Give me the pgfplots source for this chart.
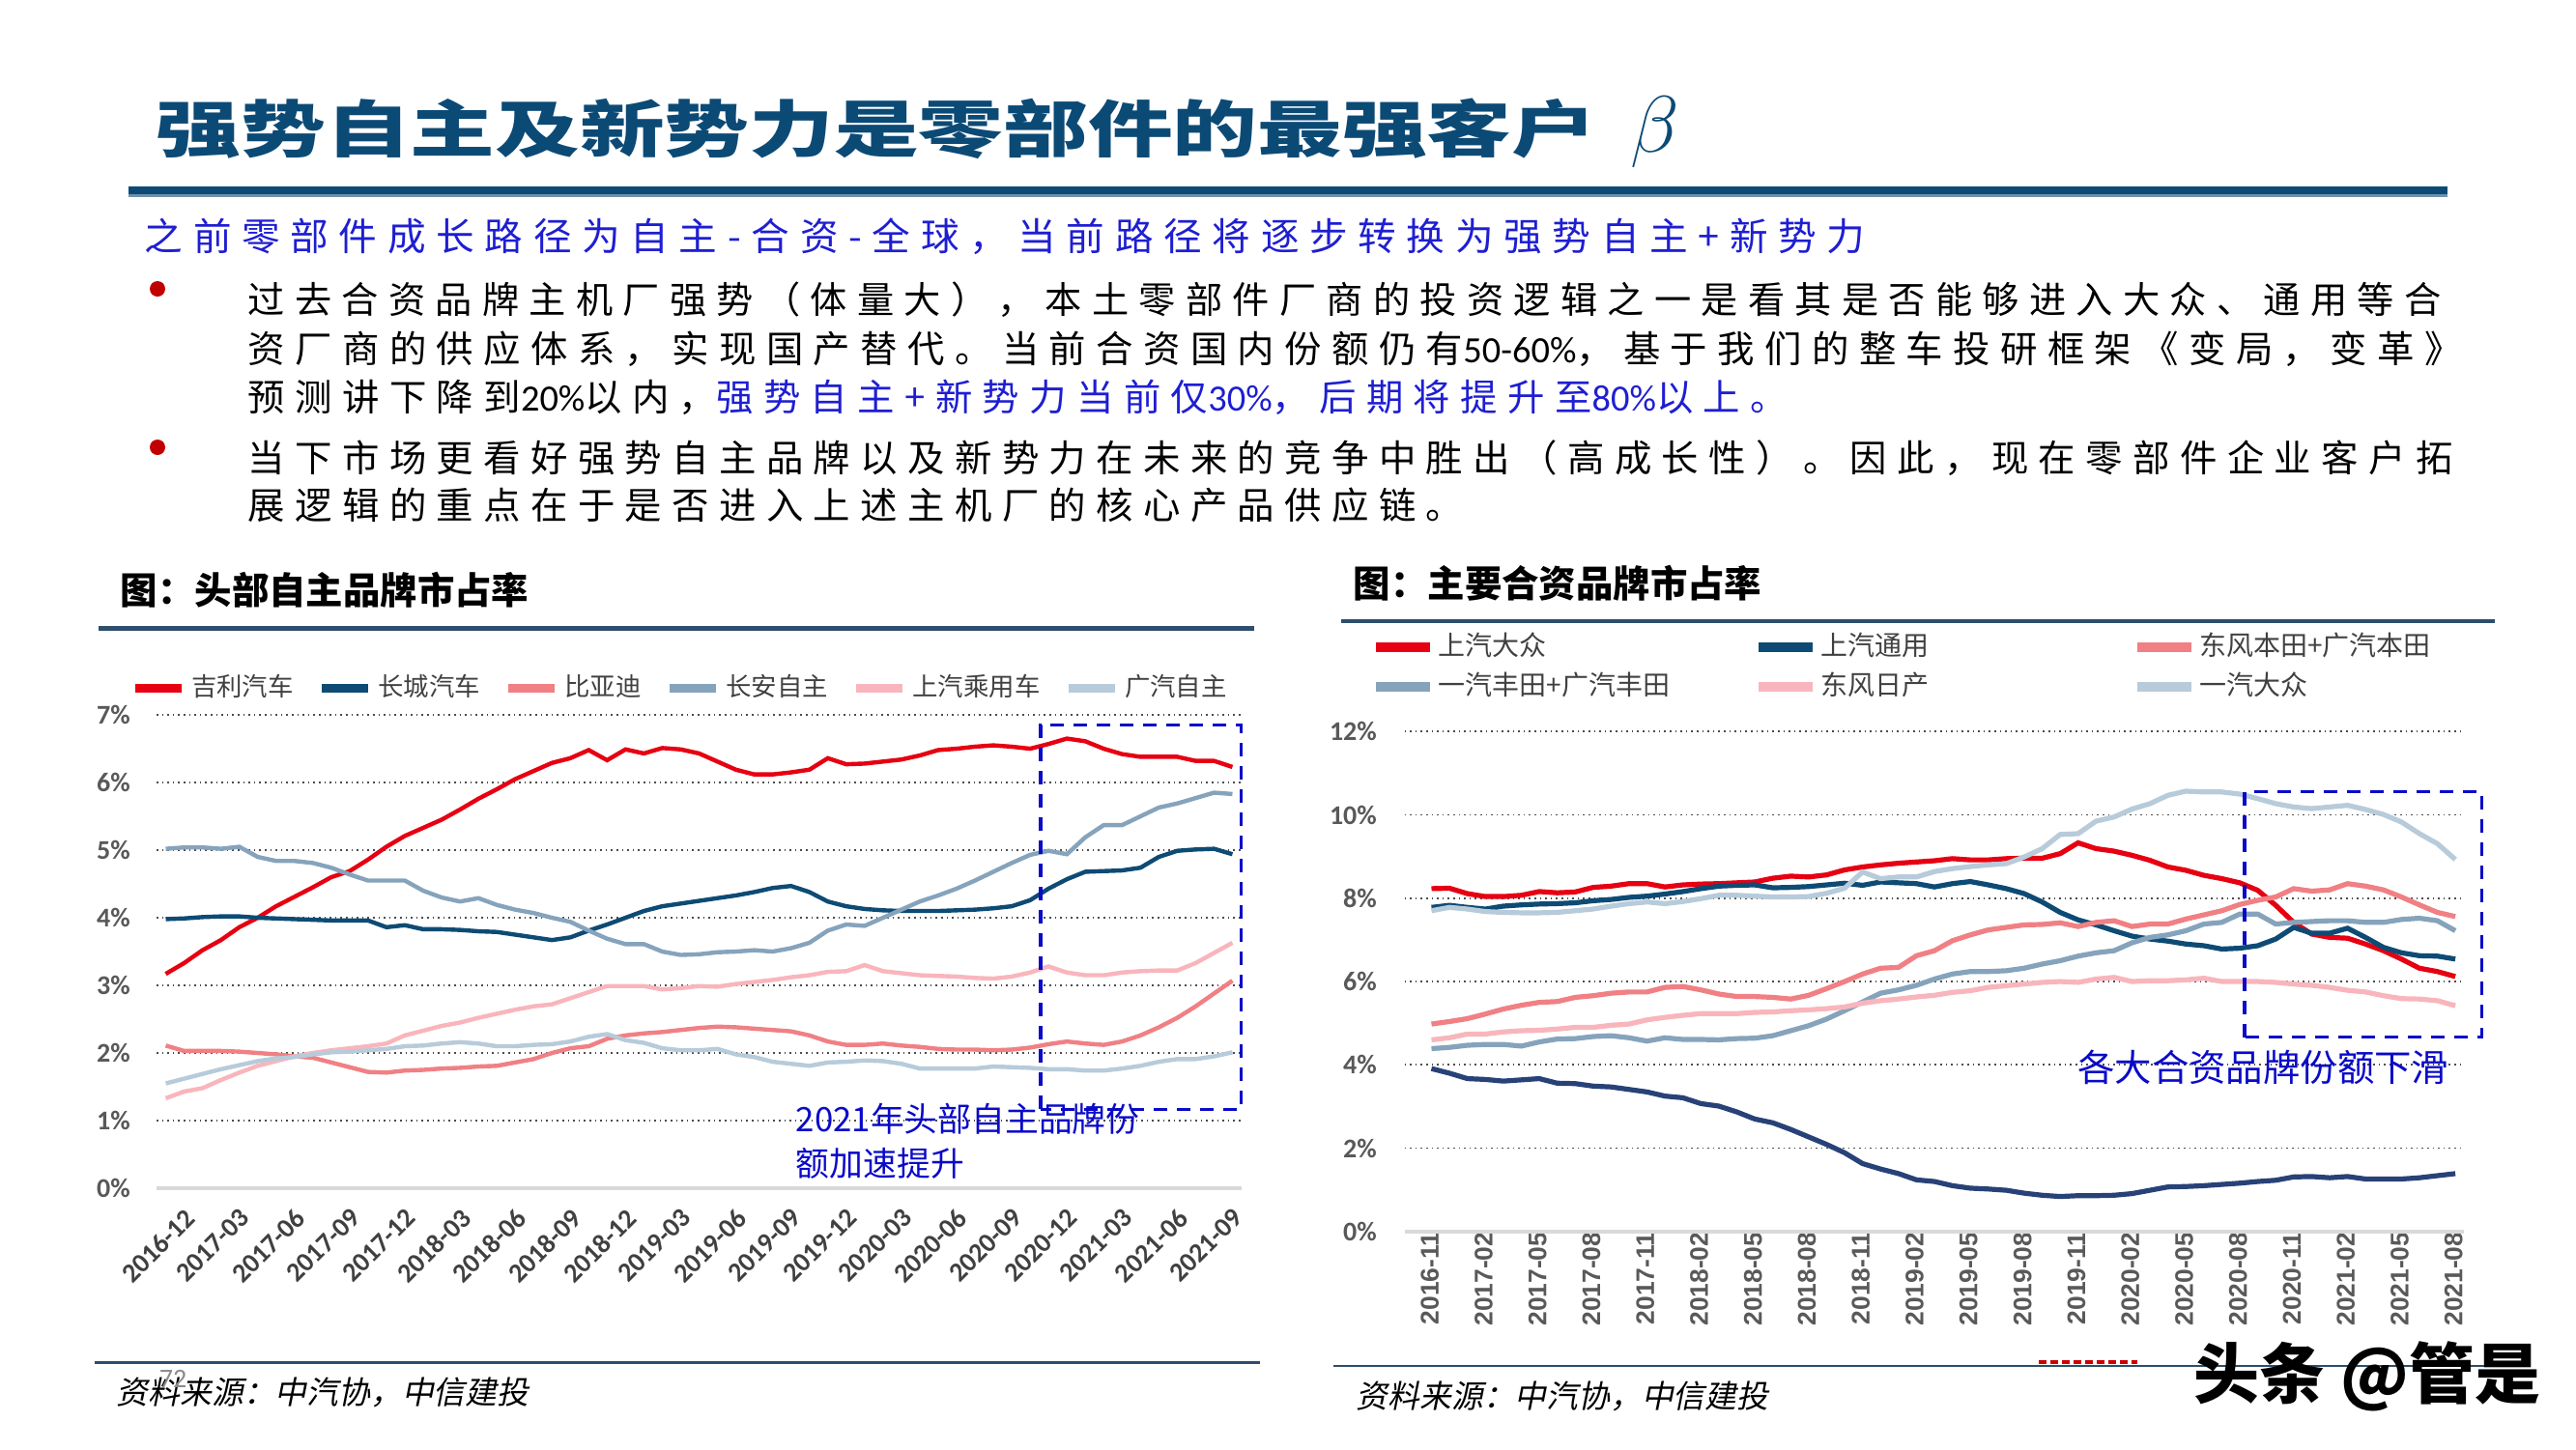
\documentclass[border=0pt]{standalone}
\usepackage{fontspec}
\usepackage{graphicx}
\usepackage{pgfplots}
\usepackage{pgfplotstable}
\pgfplotsset{compat=1.18}
\setmainfont{Noto Sans CJK SC}
\newfontfamily\lsfont[LetterSpace=27]{Noto Sans CJK SC}
\newfontfamily\slfont[FakeSlant=0.2]{Noto Sans CJK SC}
\newfontfamily\carlito{Carlito}
\newfontfamily\libsans{Liberation Sans}
\newcommand\lat[1]{{\carlito #1}}

\definecolor{cRed}{RGB}{230,0,18}
\definecolor{cNavy}{RGB}{14,75,116}
\definecolor{cSalmon}{RGB}{240,128,132}
\definecolor{cSteel}{RGB}{134,163,188}
\definecolor{cPink}{RGB}{248,182,188}
\definecolor{cLight}{RGB}{183,203,218}
\definecolor{cOther}{RGB}{40,66,120}
\definecolor{titleblue}{RGB}{12,74,118}
\definecolor{bodyblue}{RGB}{30,30,210}
\definecolor{annoblue}{RGB}{10,10,200}
\definecolor{rulec}{RGB}{45,78,108}
\definecolor{bulletred}{RGB}{192,0,0}
\definecolor{tickgray}{RGB}{89,89,89}
\definecolor{leggray}{RGB}{64,64,64}

\pgfplotstableread{
i geely gw byd ca saic gac
0 3.17 3.98 2.11 5.02 1.33 1.55
1 3.33 3.99 2.03 5.04 1.43 1.62
2 3.52 4.01 2.03 5.04 1.48 1.69
3 3.67 4.02 2.03 5.02 1.60 1.76
4 3.86 4.02 2.02 5.05 1.71 1.82
5 4.00 4.00 2.00 4.90 1.81 1.88
6 4.17 3.99 1.98 4.84 1.88 1.92
7 4.31 3.98 1.95 4.84 1.95 1.94
8 4.45 3.97 1.93 4.81 2.00 1.98
9 4.60 3.96 1.86 4.74 2.04 2.01
10 4.69 3.96 1.79 4.64 2.07 2.02
11 4.86 3.96 1.72 4.55 2.10 2.04
12 5.05 3.86 1.71 4.55 2.14 2.06
13 5.21 3.89 1.74 4.55 2.26 2.10
14 5.33 3.83 1.75 4.40 2.33 2.11
15 5.45 3.83 1.77 4.30 2.40 2.14
16 5.60 3.82 1.78 4.24 2.45 2.16
17 5.76 3.80 1.80 4.29 2.52 2.14
18 5.90 3.79 1.81 4.19 2.58 2.10
19 6.05 3.75 1.86 4.12 2.64 2.10
20 6.17 3.71 1.91 4.07 2.69 2.12
21 6.29 3.67 2.00 4.00 2.72 2.13
22 6.36 3.71 2.07 3.94 2.81 2.17
23 6.48 3.81 2.10 3.81 2.90 2.24
24 6.33 3.90 2.21 3.69 2.99 2.28
25 6.49 4.00 2.26 3.61 2.99 2.19
26 6.43 4.10 2.29 3.61 2.99 2.15
27 6.51 4.17 2.31 3.50 2.94 2.07
28 6.49 4.21 2.34 3.45 2.96 2.04
29 6.43 4.25 2.37 3.46 2.99 2.04
30 6.31 4.29 2.39 3.49 2.98 2.06
31 6.19 4.33 2.38 3.50 3.02 1.98
32 6.12 4.38 2.36 3.52 3.05 1.94
33 6.12 4.44 2.34 3.50 3.08 1.87
34 6.15 4.47 2.32 3.55 3.12 1.84
35 6.19 4.38 2.26 3.63 3.15 1.81
36 6.36 4.24 2.17 3.81 3.20 1.86
37 6.27 4.17 2.12 3.90 3.21 1.87
38 6.28 4.13 2.12 3.88 3.30 1.89
39 6.31 4.11 2.14 4.00 3.21 1.88
40 6.34 4.10 2.11 4.12 3.18 1.84
41 6.40 4.10 2.09 4.24 3.15 1.77
42 6.48 4.10 2.06 4.33 3.14 1.77
43 6.50 4.11 2.05 4.43 3.13 1.77
44 6.53 4.12 2.05 4.55 3.11 1.77
45 6.55 4.14 2.04 4.68 3.10 1.80
46 6.53 4.17 2.05 4.81 3.13 1.79
47 6.50 4.26 2.08 4.93 3.19 1.78
48 6.57 4.43 2.13 4.99 3.28 1.76
49 6.65 4.57 2.17 4.94 3.19 1.76
50 6.61 4.68 2.14 5.19 3.15 1.74
51 6.50 4.69 2.12 5.37 3.15 1.74
52 6.42 4.70 2.17 5.37 3.19 1.77
53 6.38 4.74 2.26 5.50 3.21 1.81
54 6.38 4.90 2.38 5.63 3.22 1.87
55 6.38 4.99 2.52 5.69 3.22 1.91
56 6.32 5.01 2.69 5.77 3.33 1.91
57 6.32 5.02 2.88 5.85 3.48 1.95
58 6.23 4.94 3.07 5.83 3.63 2.01
}\leftdata

\pgfplotstableread{
i svw sgm honda toyota nissan faw other
1 8.23 7.78 4.98 4.39 4.60 7.70 3.91
2 8.24 7.83 5.04 4.42 4.65 7.78 3.80
3 8.11 7.78 5.11 4.47 4.74 7.74 3.67
4 8.04 7.74 5.22 4.49 4.74 7.68 3.65
5 8.04 7.81 5.34 4.49 4.79 7.66 3.61
6 8.07 7.84 5.43 4.45 4.82 7.65 3.64
7 8.16 7.86 5.50 4.55 4.83 7.65 3.67
8 8.13 7.87 5.52 4.62 4.86 7.66 3.56
9 8.15 7.89 5.62 4.63 4.90 7.70 3.55
10 8.26 7.94 5.66 4.68 4.90 7.74 3.49
11 8.29 7.97 5.72 4.70 4.95 7.81 3.47
12 8.35 8.02 5.75 4.65 4.98 7.87 3.41
13 8.35 8.05 5.75 4.57 5.08 7.91 3.35
14 8.27 8.10 5.86 4.65 5.14 7.87 3.25
15 8.32 8.16 5.88 4.61 5.19 7.92 3.21
16 8.34 8.23 5.80 4.61 5.23 7.99 3.07
17 8.35 8.29 5.70 4.60 5.23 8.07 3.01
18 8.37 8.31 5.64 4.63 5.23 8.07 2.87
19 8.39 8.32 5.64 4.64 5.26 8.05 2.70
20 8.48 8.25 5.62 4.70 5.27 8.03 2.61
21 8.53 8.26 5.58 4.82 5.30 8.03 2.45
22 8.51 8.28 5.67 4.94 5.32 8.04 2.27
23 8.56 8.32 5.83 5.10 5.35 8.12 2.09
24 8.68 8.36 6.00 5.30 5.39 8.24 1.89
25 8.75 8.31 6.18 5.51 5.48 8.63 1.63
26 8.80 8.39 6.32 5.72 5.54 8.47 1.50
27 8.84 8.37 6.34 5.80 5.58 8.51 1.39
28 8.87 8.35 6.62 5.91 5.63 8.51 1.24
29 8.90 8.27 6.74 6.06 5.67 8.64 1.20
30 8.95 8.35 6.98 6.18 5.74 8.71 1.10
31 8.92 8.40 7.12 6.24 5.78 8.76 1.04
32 8.92 8.32 7.24 6.24 5.86 8.80 1.02
33 8.95 8.23 7.30 6.26 5.90 8.83 0.99
34 8.96 8.11 7.36 6.32 5.94 8.99 0.92
35 8.96 7.91 7.37 6.42 5.98 9.19 0.87
36 9.07 7.66 7.41 6.50 6.00 9.53 0.84
37 9.33 7.48 7.32 6.61 5.98 9.55 0.86
38 9.19 7.36 7.42 6.69 6.06 9.85 0.86
39 9.13 7.22 7.46 6.74 6.10 9.95 0.87
40 9.03 7.09 7.32 6.93 6.00 10.14 0.91
41 8.91 7.02 7.38 7.06 6.02 10.27 0.99
42 8.75 6.97 7.38 7.12 6.02 10.47 1.07
43 8.67 6.90 7.50 7.22 6.04 10.57 1.08
44 8.55 6.86 7.60 7.38 6.08 10.55 1.10
45 8.47 6.78 7.70 7.42 6.00 10.55 1.13
46 8.37 6.80 7.85 7.62 6.00 10.50 1.16
47 8.19 6.86 7.95 7.62 6.00 10.39 1.20
48 7.83 7.02 8.03 7.38 5.98 10.27 1.23
49 7.42 7.30 8.23 7.42 5.94 10.19 1.31
50 7.14 7.16 8.17 7.44 5.91 10.15 1.32
51 7.06 7.16 8.20 7.46 5.86 10.19 1.29
52 7.04 7.28 8.35 7.46 5.79 10.23 1.32
53 6.90 7.06 8.29 7.42 5.75 10.13 1.26
54 6.74 6.82 8.20 7.42 5.66 10.01 1.26
55 6.54 6.69 8.03 7.49 5.59 9.83 1.26
56 6.32 6.62 7.84 7.52 5.58 9.55 1.29
57 6.24 6.61 7.66 7.46 5.54 9.31 1.34
58 6.12 6.54 7.56 7.22 5.42 8.93 1.39
}\rightdata

\pgfplotsset{
  slide axis/.style={
    scale only axis, anchor=south west, clip=false,
    xmin=-0.5, xmax=58.5, ymin=0,
    axis line style={draw=none},
    major tick length=0pt,
    ymajorgrids,
    major grid style={densely dotted, line width=0.45pt, black!70},
    extra y ticks={0},
    extra y tick labels={0\%},
    extra y tick style={grid=major, major grid style={solid, line width=1.1pt, black!15}},
    xtick={0,3,...,57},
    /pgf/number format/assume math mode=true,
    legend cell align=left,
  }
}

\begin{document}
\begin{tikzpicture}
\path[use as bounding box] (0,0) rectangle (666.5pt,-375pt);

% ---------------- left chart ----------------
\begin{axis}[slide axis,
  at={(40.5pt,-307.5pt)}, width=280.75pt, height=122.5pt,
  ymax=7, ytick={1,...,7},
  yticklabels={1\%,2\%,3\%,4\%,5\%,6\%,7\%},
  yticklabel style={font=\carlito\bfseries\fontsize{7pt}{7pt}\selectfont, text=tickgray, anchor=east, inner sep=0pt, xshift=-6.6pt},
  xticklabels={2016-12,2017-03,2017-06,2017-09,2017-12,2018-03,2018-06,2018-09,2018-12,2019-03,2019-06,2019-09,2019-12,2020-03,2020-06,2020-09,2020-12,2021-03,2021-06,2021-09},
  xticklabel style={font=\carlito\bfseries\fontsize{7pt}{7pt}\selectfont, text=leggray, rotate=45, anchor=north east, inner sep=0pt, yshift=-6.5pt},
  legend columns=6,
  legend style={at={(axis description cs:-0.0245,1.056)}, anchor=west, draw=none, fill=none, inner sep=0pt,
    font=\fontsize{6.6pt}{7pt}\selectfont, text=leggray,
    nodes={inner sep=1.5pt},
    /tikz/every even column/.append style={column sep=4.7pt}},
  legend image code/.code={\draw[#1, line width=2.2pt] (0pt,0pt) -- (12pt,0pt);},
]
\addplot[cRed, line width=1.1pt] table[x=i, y=geely] {\leftdata};
\addlegendentry{吉利汽车}
\addplot[cNavy, line width=1.1pt] table[x=i, y=gw] {\leftdata};
\addlegendentry{长城汽车}
\addplot[cSalmon, line width=1.1pt] table[x=i, y=byd] {\leftdata};
\addlegendentry{比亚迪}
\addplot[cSteel, line width=1.1pt] table[x=i, y=ca] {\leftdata};
\addlegendentry{长安自主}
\addplot[cPink, line width=1.1pt] table[x=i, y=saic] {\leftdata};
\addlegendentry{上汽乘用车}
\addplot[cLight, line width=1.1pt] table[x=i, y=gac] {\leftdata};
\addlegendentry{广汽自主}
\draw[annoblue, line width=0.8pt, dash pattern=on 3.5pt off 2.5pt] (axis cs:47.57,1.17) rectangle (axis cs:58.49,6.85);
\end{axis}

% ---------------- right chart ----------------
\begin{axis}[slide axis,
  at={(363.4pt,-318.7pt)}, width=274.2pt, height=129.375pt,
  ymax=12, ytick={2,4,...,12},
  yticklabels={2\%,4\%,6\%,8\%,10\%,12\%},
  yticklabel style={font=\carlito\bfseries\fontsize{7pt}{7pt}\selectfont, text=tickgray, anchor=east, inner sep=0pt, xshift=-7pt},
  xticklabels={2016-11,2017-02,2017-05,2017-08,2017-11,2018-02,2018-05,2018-08,2018-11,2019-02,2019-05,2019-08,2019-11,2020-02,2020-05,2020-08,2020-11,2021-02,2021-05,2021-08},
  xticklabel style={font=\libsans\bfseries\fontsize{6.6pt}{7pt}\selectfont, text=tickgray, rotate=90, anchor=east, inner sep=0pt, yshift=-4.2pt},
  legend columns=3,
  legend style={at={(axis description cs:-0.032,1.207)}, anchor=north west, draw=none, fill=none, inner sep=0pt,
    font=\fontsize{7pt}{7.5pt}\selectfont, text=leggray,
    nodes={inner sep=1pt}, row sep=0.9pt,
    /tikz/column 2/.style={column sep=20.7pt},
    /tikz/column 4/.style={column sep=51.5pt}},
  legend image code/.code={\draw[#1, line width=2.4pt] (0pt,0pt) -- (14pt,0pt);},
]
\addplot[cRed, line width=1.3pt] table[x=i, y=svw] {\rightdata};
\addlegendentry{上汽大众}
\addplot[cNavy, line width=1.3pt] table[x=i, y=sgm] {\rightdata};
\addlegendentry{上汽通用}
\addplot[cSalmon, line width=1.3pt] table[x=i, y=honda] {\rightdata};
\addlegendentry{东风本田+广汽本田}
\addplot[cSteel, line width=1.3pt] table[x=i, y=toyota] {\rightdata};
\addlegendentry{一汽丰田+广汽丰田}
\addplot[cPink, line width=1.3pt] table[x=i, y=nissan] {\rightdata};
\addlegendentry{东风日产}
\addplot[cLight, line width=1.3pt] table[x=i, y=faw] {\rightdata};
\addlegendentry{一汽大众}
\addplot[cOther, line width=1.3pt, forget plot] table[x=i, y=other] {\rightdata};
\draw[annoblue, line width=0.8pt, dash pattern=on 3.5pt off 2.5pt] (axis cs:46.27,4.66) rectangle (axis cs:59.47,10.55);
\end{axis}

% ---------------- slide decorations (pixel units) ----------------
\begin{scope}[x=0.25pt,y=-0.25pt]
% title
\node[anchor=west, text=titleblue, inner sep=0pt] at (161,133)
  {\scalebox{1.37}[1]{\fontsize{16pt}{16pt}\selectfont\bfseries 强势自主及新势力是零部件的最强客户}};
\node[text=titleblue, inner sep=0pt] at (1713,137) {\fontsize{22pt}{22pt}\selectfont$\beta$};
\fill[titleblue] (133,193) rectangle (2533,201);
\fill[titleblue!60] (133,201) rectangle (2533,204);
% subtitle
\node[anchor=west, text=bodyblue, inner sep=0pt] at (149,245)
  {\lsfont\fontsize{9.9pt}{10pt}\selectfont 之前零部件成长路径为自主-合资-全球，当前路径将逐步转换为强势自主+新势力};
% bullets
\fill[bulletred] (163,299) circle (8);
\fill[bulletred] (163,463) circle (8);
\node[anchor=west, inner sep=0pt] at (256,310)
  {\lsfont\fontsize{9.55pt}{10pt}\selectfont 过去合资品牌主机厂强势（体量大），本土零部件厂商的投资逻辑之一是看其是否能够进入大众、通用等合};
\node[anchor=west, inner sep=0pt] at (256,361)
  {\lsfont\fontsize{9.6pt}{10pt}\selectfont 资厂商的供应体系，实现国产替代。当前合资国内份额仍有\lat{50-60\%}，基于我们的整车投研框架《变局，变革》};
\node[anchor=west, inner sep=0pt] at (256,411)
  {\lsfont\fontsize{9.6pt}{10pt}\selectfont 预测讲下降到\lat{20\%}以内，\textcolor{bodyblue}{强势自主+新势力当前仅\lat{30\%}，后期将提升至\lat{80\%}以上。}};
\node[anchor=west, inner sep=0pt] at (256,474)
  {\lsfont\fontsize{9.6pt}{10pt}\selectfont 当下市场更看好强势自主品牌以及新势力在未来的竞争中胜出（高成长性）。因此，现在零部件企业客户拓};
\node[anchor=west, inner sep=0pt] at (256,523)
  {\lsfont\fontsize{9.6pt}{10pt}\selectfont 展逻辑的重点在于是否进入上述主机厂的核心产品供应链。};
% chart titles and rules
\node[anchor=west, inner sep=0pt] at (124,611) {\fontsize{9.6pt}{10pt}\selectfont\bfseries 图：头部自主品牌市占率};
\node[anchor=west, inner sep=0pt] at (1400,604) {\fontsize{9.6pt}{10pt}\selectfont\bfseries 图：主要合资品牌市占率};
\fill[rulec] (101.5,648.4) rectangle (1297.8,652.9);
\fill[rulec] (1388,640.8) rectangle (2582,645.2);
\fill[rulec] (97.5,1409.3) rectangle (1304,1412.3);
\fill[rulec] (1380,1412.7) rectangle (2573,1415);
% annotations
\node[anchor=west, text=annoblue, inner sep=0pt] at (823,1158) {\fontsize{8.7pt}{9pt}\selectfont 2021年头部自主品牌份};
\node[anchor=west, text=annoblue, inner sep=0pt] at (823,1204) {\fontsize{8.7pt}{9pt}\selectfont 额加速提升};
\node[anchor=east, text=annoblue, inner sep=0pt] at (2535,1105) {\fontsize{9.6pt}{10pt}\selectfont 各大合资品牌份额下滑};
% footers
\node[anchor=west, inner sep=0pt] at (120,1441) {\slfont\fontsize{8.2pt}{9pt}\selectfont 资料来源：中汽协，中信建投};
\node[anchor=west, inner sep=0pt] at (1403,1445) {\slfont\fontsize{8.2pt}{9pt}\selectfont 资料来源：中汽协，中信建投};
\node[text=black!45, inner sep=0pt] at (179,1427) {\carlito\fontsize{7pt}{7pt}\selectfont 72};
\draw[red!80!black, line width=1.2pt, dash pattern=on 2pt off 1pt] (2110,1410) -- (2212,1410);
\node[anchor=center, inner sep=0pt] at (2450,1425) {\fontsize{17pt}{17pt}\selectfont\bfseries 头条 @管是};
\end{scope}
\end{tikzpicture}
\end{document}
